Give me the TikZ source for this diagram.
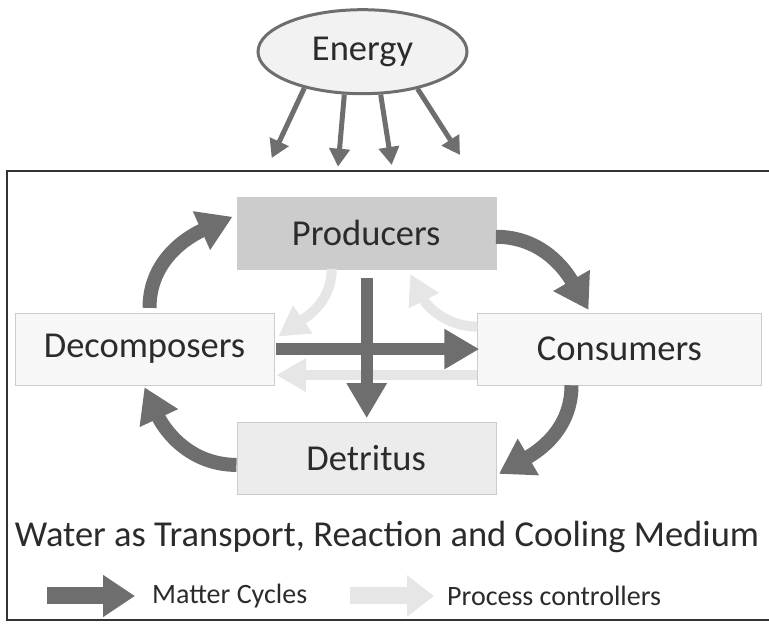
\documentclass[tikz,border=0pt]{standalone}
\usepackage{fontspec}
\setmainfont{Carlito}
\usepackage{xcolor}
\usetikzlibrary{shapes,arrows.meta,positioning}

\definecolor{matterc}{HTML}{6E6E6E}
\definecolor{ctrlc}{HTML}{E6E6E6}
\definecolor{txtc}{HTML}{2B2B2B}

\begin{document}
\begin{tikzpicture}[
    x=1pt, y=1pt,
    box/.style={rectangle, draw=black!20, minimum width=259pt, minimum height=72pt, inner sep=0pt, text=txtc, font=\fontsize{36.5}{40}\selectfont},
    flow/.style={-{Triangle[width=20pt,length=18pt]}, line width=5pt, color=matterc},
    matter/.style={-{Triangle[width=40pt,length=34pt]}, line width=14pt, color=matterc},
    cross/.style={-{Triangle[width=38pt,length=35pt]}, line width=12pt, color=matterc},
    control/.style={-{Triangle[width=32pt,length=30pt]}, line width=10pt, color=ctrlc},
    legend/.style={anchor=west, inner sep=0pt, text=txtc, font=\fontsize{28}{30}\selectfont}
]
    \useasboundingbox (0,0) rectangle (769,624);

    \draw[line width=2pt, black!80] (772,453) -- (7,453) -- (7,4) -- (772,4);

    \node[ellipse, draw=matterc, line width=3pt, fill=black!5, minimum width=209pt, minimum height=84pt, text=txtc, font=\fontsize{36.5}{40}\selectfont] (energy) at (362.5,572.3) {Energy};
    \coordinate (e1) at (271.7,466);
    \coordinate (e2) at (338,457.3);
    \coordinate (e3) at (391.7,459);
    \coordinate (e4) at (460,469);
    \draw[flow] (energy.212) -- (e1);
    \draw[flow] (energy.247) -- (e2);
    \draw[flow] (energy.293) -- (e3);
    \draw[flow] (energy.326) -- (e4);

    \node[box, fill=black!20] (prod) at (366.2,391.2) {Producers};
    \node[box, fill=black!7.5, below=152.7pt of prod] (det) {Detritus};
    \node[box, fill=black!3] (decomp) at (144.5,274.9) {Decomposers};
    \node[box, fill=black!3, minimum width=284pt] (cons) at (619.5,274.9) {Consumers};

    \draw[control] ([yshift=-26pt]cons.west) -- ([xshift=2pt,yshift=-26pt]decomp.east);
    \draw[control] ([xshift=-34.5pt]prod.south) to[out=-90,in=35] ([xshift=4pt,yshift=12.5pt]decomp.east);
    \draw[control] ([yshift=22.5pt]cons.west) to[out=180,in=-63] ([xshift=44pt,yshift=-5pt]prod.south);

    \draw[cross] ([xshift=2pt]decomp.east) -- ([xshift=2pt]cons.west);
    \draw[cross] ([xshift=0.5pt,yshift=-9pt]prod.south) -- ([xshift=0.5pt,yshift=3.5pt]det.north);

    \draw[matter] ([xshift=5pt,yshift=5pt]decomp.north) to[out=90,in=204] ([xshift=-4pt,yshift=16pt]prod.west);
    \draw[matter] ([yshift=-4pt]prod.east) to[out=0,in=120] ([xshift=-31pt,yshift=3pt]cons.north);
    \draw[matter] ([xshift=-48pt]cons.south) to[out=-90,in=30] ([xshift=3pt,yshift=-16pt]det.east);
    \draw[matter] ([yshift=-7pt]det.west) to[out=180,in=-65] ([yshift=-2pt]decomp.south);

    \node[text=txtc, font=\fontsize{36.5}{40}\selectfont] (medium) at (387,87) {Water as Transport, Reaction and Cooling Medium};

    \coordinate (lm1) at (47,28);
    \coordinate (lm2) at (135,28);
    \coordinate (lc1) at (350,28);
    \coordinate (lc2) at (434,28);
    \draw[-{Triangle[width=40pt,length=32pt]}, line width=17pt, matterc] (lm1) -- (lm2);
    \draw[-{Triangle[width=40pt,length=27pt]}, line width=17pt, ctrlc] (lc1) -- (lc2);
    \node[legend] (lmat) at (152,28) {Matter Cycles};
    \node[legend] (lctrl) at (447,28) {Process controllers};
\end{tikzpicture}
\end{document}
